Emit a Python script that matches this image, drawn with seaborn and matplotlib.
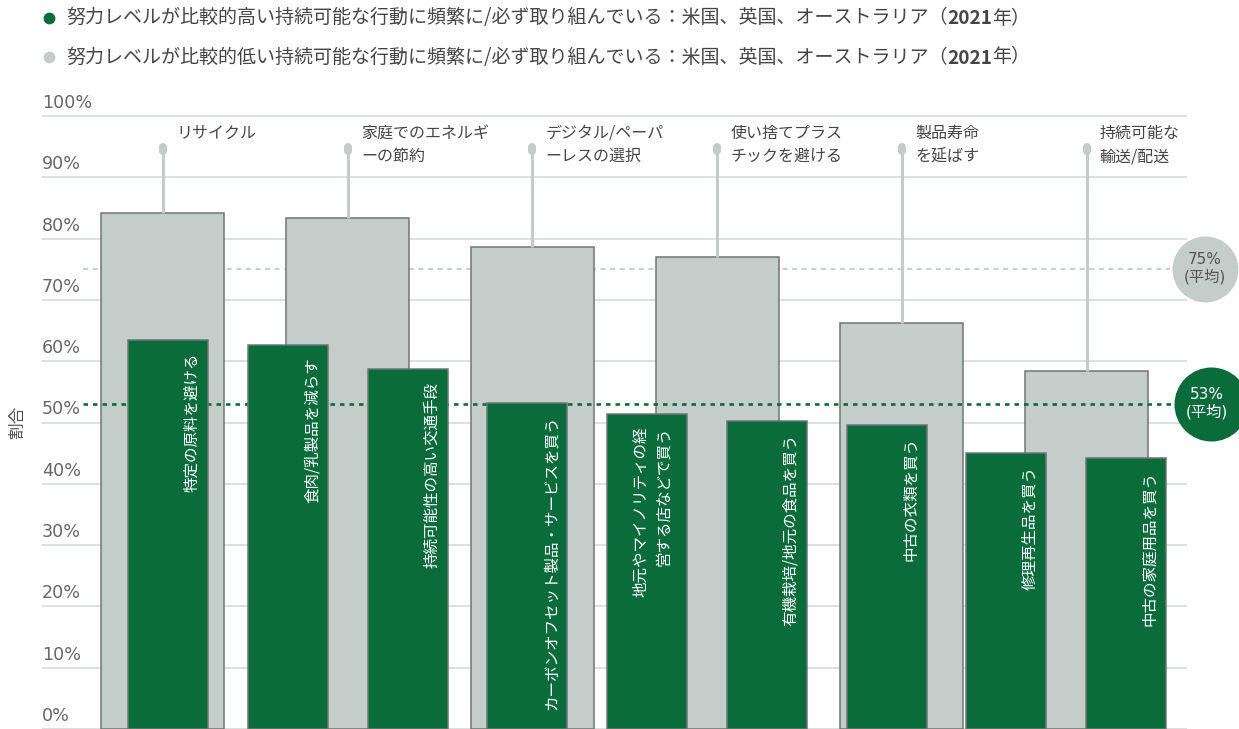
import matplotlib
matplotlib.use("Agg")
import matplotlib.pyplot as plt
import seaborn as sns
import numpy as np
from matplotlib.transforms import ScaledTranslation
from matplotlib.lines import Line2D

# ---------------- data ----------------
low_effort_actions = ["リサイクル", "家庭でのエネルギ\nーの節約", "デジタル/ペーパ\nーレスの選択",
                      "使い捨てプラス\nチックを避ける", "製品寿命\nを延ばす", "持続可能な\n輸送/配送"]
low_effort_values = [84.1, 83.3, 78.6, 77.0, 66.2, 58.4]

high_effort_actions = ["特定の原料を避ける", "食肉/乳製品を減らす", "持続可能性の高い交通手段",
                       "カーボンオフセット製品・サービスを買う", "地元やマイノリティの経\n営する店などで買う",
                       "有機栽培/地元の食品を買う", "中古の衣類を買う", "修理再生品を買う", "中古の家庭用品を買う"]
high_effort_values = [63.4, 62.6, 58.7, 53.1, 51.4, 50.2, 49.6, 45.0, 44.2]

avg_low = 75
avg_high = 53

y_ticks = list(range(0, 101, 10))
y_tick_labels = [f"{v}%" for v in y_ticks]

legend_high = "努力レベルが比較的高い持続可能な行動に頻繁に/必ず取り組んでいる：米国、英国、オーストラリア（"
legend_low = "努力レベルが比較的低い持続可能な行動に頻繁に/必ず取り組んでいる：米国、英国、オーストラリア（"
legend_year = "2021"
legend_tail = "年）"
y_label = "割合"
avg_label = "(平均)"

# ---------------- style ----------------
GREEN = "#0a6b3b"
GRAY = "#c5cdcb"
EDGE = "#6e7673"
STEM = "#c3ccc9"
GRID = "#d6dbd9"
TXT = "#454545"

sns.set_theme(style="white")
plt.rcParams["font.family"] = ["Noto Sans CJK JP", "DejaVu Sans"]

W, H = 1239, 729
fig = plt.figure(figsize=(W / 100, H / 100), dpi=100)
PX_PER_PCT = 6.13
ax = fig.add_axes([42 / W, 0, (1187 - 42) / W, 102 * PX_PER_PCT / H])

# gray bars (lower effort)
sns.barplot(x=low_effort_actions, y=low_effort_values, ax=ax, color=GRAY, saturation=1,
            width=0.666, edgecolor=EDGE, linewidth=1.1, errorbar=None, zorder=2)
ax.set_xlim(-0.655, 5.544)

ax2 = ax.twiny()
sns.barplot(x=high_effort_actions, y=high_effort_values, ax=ax2, color=GREEN, saturation=1,
            width=0.668, edgecolor=EDGE, linewidth=1.1, errorbar=None, zorder=2)
ax2.set_xlim(-1.055, 8.51)

for a in (ax, ax2):
    a.set_ylim(0, 102)
    a.set_xticks([])
    a.set_xlabel("")
    for s in a.spines.values():
        s.set_visible(False)

ax.set_axisbelow(True)
ax.yaxis.grid(True, color=GRID, lw=1.2)
ax.set_yticks(y_ticks)
ax.set_yticklabels(y_tick_labels)
ax.tick_params(axis="y", length=0, pad=0, labelsize=12.6, labelcolor="#666666")
for lab in ax.get_yticklabels():
    lab.set_horizontalalignment("left")
    lab.set_fontfamily("DejaVu Sans")
    lab.set_transform(lab.get_transform() + ScaledTranslation(0, 15 / 100, fig.dpi_scale_trans))
ax.set_ylabel(y_label, fontsize=12, color="#555555", rotation=90)
ax.yaxis.set_label_coords(-0.0135, 0.491)
ax2.set_ylabel("")

# average lines
ax.hlines(avg_low, -0.433, 5.452, colors="#c8d0cd", linestyles=(0, (2.4, 2.2)), lw=1.5, zorder=1.5)
ax2.hlines(avg_high, -0.713, 8.385, colors=GREEN, linestyles=(0, (1.7, 1.9)), lw=1.9, zorder=1.5)

# stems and labels for gray bars
STEM_TOP = 94.6
for i, (lab, v) in enumerate(zip(low_effort_actions, low_effort_values)):
    ax.plot([i, i], [v, STEM_TOP], color=STEM, lw=2.2, solid_capstyle="butt", zorder=2.5)
    ax.plot([i, i], [STEM_TOP - 0.33, STEM_TOP + 0.33], color=STEM, lw=5.8,
            solid_capstyle="round", zorder=2.6)
    ax.annotate(lab, xy=(i, 98.6), xytext=(9.5, 0), textcoords="offset points",
                ha="left", va="top", fontsize=11.5, color=TXT, linespacing=1.5)

# labels inside green bars
for i, (lab, v) in enumerate(zip(high_effort_actions, high_effort_values)):
    n = lab.count("\n") + 1
    dx = (24 - 19 * (n - 1)) * 0.72
    ax2.annotate(lab, xy=(i, v), xytext=(dx, -9), textcoords="offset points",
                 rotation=90, rotation_mode="anchor", ha="right", va="center",
                 multialignment="right", color="white", fontsize=11.2, linespacing=1.4)

# average bubbles
gx = 5.642
ax.scatter([gx], [avg_low], s=2256, color=GRAY, clip_on=False, zorder=5, linewidths=0)
ax.text(gx, avg_low + 0.2, f"{avg_low}%\n{avg_label}", ha="center", va="center", fontsize=11,
        color="#555555", family=["DejaVu Sans", "Noto Sans CJK JP"], linespacing=1.15,
        zorder=6, clip_on=False)
hx = 8.711
ax2.scatter([hx], [avg_high], s=2840, color=GREEN, clip_on=False, zorder=5, linewidths=0)
ax2.text(hx - 0.035, avg_high + 0.2, f"{avg_high}%\n{avg_label}", ha="center", va="center",
         fontsize=11, color="white", family=["DejaVu Sans", "Noto Sans CJK JP"],
         linespacing=1.15, zorder=6, clip_on=False)

# legend
for yy, col, text in [(18, GREEN, legend_high), (57, GRAY, legend_low)]:
    fig.add_artist(Line2D([49 / W], [1 - yy / H], marker="o", markersize=8.5, color=col,
                          markeredgewidth=0, transform=fig.transFigure))
    t1 = fig.text(66 / W, 1 - yy / H, text, ha="left", va="center", fontsize=13.7, color=TXT)
    t2 = ax.annotate(legend_year, xy=(1, 0), xycoords=t1, ha="left", va="bottom",
                     fontsize=13.7, color=TXT, weight="bold", annotation_clip=False)
    ax.annotate(legend_tail, xy=(1, 0), xycoords=t2, ha="left", va="bottom",
                fontsize=13.7, color=TXT, annotation_clip=False)

fig.savefig("out.png", dpi=100)
